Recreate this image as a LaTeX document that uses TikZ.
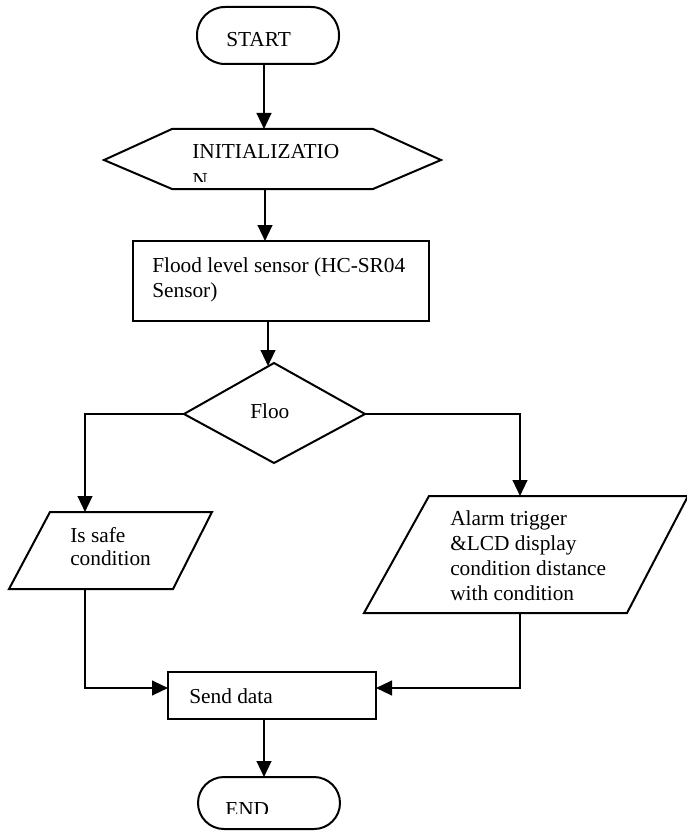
\documentclass[tikz,border=0pt]{standalone}
\usepackage{fontspec}
\setmainfont{Liberation Serif}
\usetikzlibrary{arrows.meta}
\begin{document}
\begin{tikzpicture}[x=0.75pt,y=-0.75pt,
  outline/.style={line width=1.5pt, line join=miter},
  arr/.style={line width=1.7pt,-{Triangle[length=12pt,width=11pt]}},
  txt/.style={font=\fontsize{16}{18.75}\selectfont, inner sep=0pt, anchor=base west, align=left},
  txtb/.style={font=\fontsize{16}{17.25}\selectfont, inner sep=0pt, anchor=base west, align=left},
  txtc/.style={font=\fontsize{16}{21.75}\selectfont, inner sep=0pt, anchor=base west, align=left}]
\useasboundingbox (0,0) rectangle (686,831);

% START
\draw[outline, rounded corners=21pt] (197,7) rectangle (339,64);
\node[txt] (start) at (226,47) {START};
\coordinate (startS) at (264,64);

% INITIALIZATION
\draw[outline] (104,160) -- (172,129) -- (373,129) -- (441,160) -- (373,189) -- (172,189) -- cycle;
\begin{scope}
  \clip (104,129) rectangle (441,181);
  \node[txtc] (init) at (192,187) {INITIALIZATIO\\N};
\end{scope}
\coordinate (initN) at (264,129);
\coordinate (initS) at (265,189);

% Sensor
\draw[outline] (133,241) rectangle (429,321);
\node[txt] (sensor) at (152,297) {Flood level sensor (HC-SR04\\Sensor)};
\coordinate (sensN) at (265,241);
\coordinate (sensS) at (268,321);

% Decision
\draw[outline] (274,363) -- (365,414) -- (274,463) -- (184,414) -- cycle;
\node[txt] (floo) at (250,418) {Floo};
\coordinate (decN) at (268,366);
\coordinate (decW) at (184,414);
\coordinate (decE) at (365,414);

% Safe
\draw[outline] (50,512) -- (212,512) -- (173,589) -- (9,589) -- cycle;
\node[txtb] (safe) at (70,565) {Is safe\\condition};
\coordinate (safeN) at (85,512);
\coordinate (safeS) at (85,589);

% Alarm
\draw[outline] (429,496) -- (688,496) -- (627,613) -- (364,613) -- cycle;
\node[txt] (alarm) at (450,600) {Alarm trigger\\\&LCD display\\condition distance\\with condition};
\coordinate (alarmN) at (520,496);
\coordinate (alarmS) at (520,613);

% Send data
\draw[outline] (168,672) rectangle (376,719);
\node[txt] (send) at (189,703) {Send data};
\coordinate (sendW) at (168,688);
\coordinate (sendE) at (376,688);
\coordinate (sendS) at (264,719);

% END
\draw[outline, rounded corners=19.5pt] (198,777) rectangle (340,829);
\begin{scope}
  \clip (198,777) rectangle (340,813);
  \node[txt] (endt) at (225,816) {END};
\end{scope}
\coordinate (endN) at (264,777);

% connectors
\draw[arr] (startS) -- (initN);
\draw[arr] (initS) -- (sensN);
\draw[arr] (sensS) -- (decN);
\draw[arr] (decW) -- (85,414) -- (safeN);
\draw[arr] (decE) -- (520,414) -- (alarmN);
\draw[arr] (safeS) -- (85,688) -- (sendW);
\draw[arr] (alarmS) -- (520,688) -- (sendE);
\draw[arr] (sendS) -- (endN);
\end{tikzpicture}
\end{document}
